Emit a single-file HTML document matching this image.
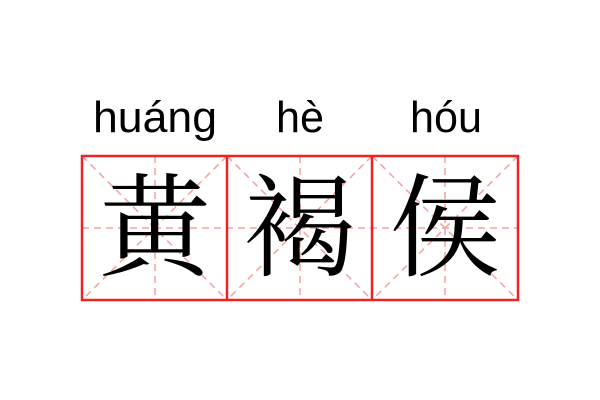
<!DOCTYPE html>
<html><head><meta charset="utf-8"><style>
html,body{margin:0;padding:0;background:#fff;width:600px;height:400px;overflow:hidden}
</style></head><body>
<svg width="600" height="400" xmlns="http://www.w3.org/2000/svg">
<g font-family="'Liberation Sans','DejaVu Sans',sans-serif" font-size="44" fill="#000" text-anchor="middle">
<text x="155" y="132" textLength="124" lengthAdjust="spacingAndGlyphs">huáng</text>
<text x="300" y="132" textLength="48" lengthAdjust="spacingAndGlyphs">hè</text>
<text x="446" y="132" textLength="72" lengthAdjust="spacingAndGlyphs">hóu</text>
</g>
<g stroke="#f5a0a0" stroke-width="1.5" stroke-dasharray="7,5" fill="none">
<line x1="82" y1="228" x2="518" y2="228"/>
<line x1="155" y1="156" x2="155" y2="300"/>
<line x1="300" y1="156" x2="300" y2="300"/>
<line x1="445" y1="156" x2="445" y2="300"/>
<line x1="82" y1="156" x2="227" y2="300"/>
<line x1="227" y1="156" x2="82" y2="300"/>
<line x1="227" y1="156" x2="372" y2="300"/>
<line x1="372" y1="156" x2="227" y2="300"/>
<line x1="372" y1="156" x2="518" y2="300"/>
<line x1="518" y1="156" x2="372" y2="300"/>
</g>
<g stroke="#ee2222" stroke-width="2.5" fill="none">
<rect x="82" y="156" width="436" height="144"/>
<line x1="227" y1="156" x2="227" y2="300"/>
<line x1="372" y1="156" x2="372" y2="300"/>
</g>
<g font-family="'Noto Serif CJK SC','Noto Sans CJK SC',serif" font-size="112" fill="#000" text-anchor="middle">
<text x="155" y="267">黄</text>
<text x="300" y="267">褐</text>
<text x="445" y="267">侯</text>
</g>
</svg>
</body></html>
